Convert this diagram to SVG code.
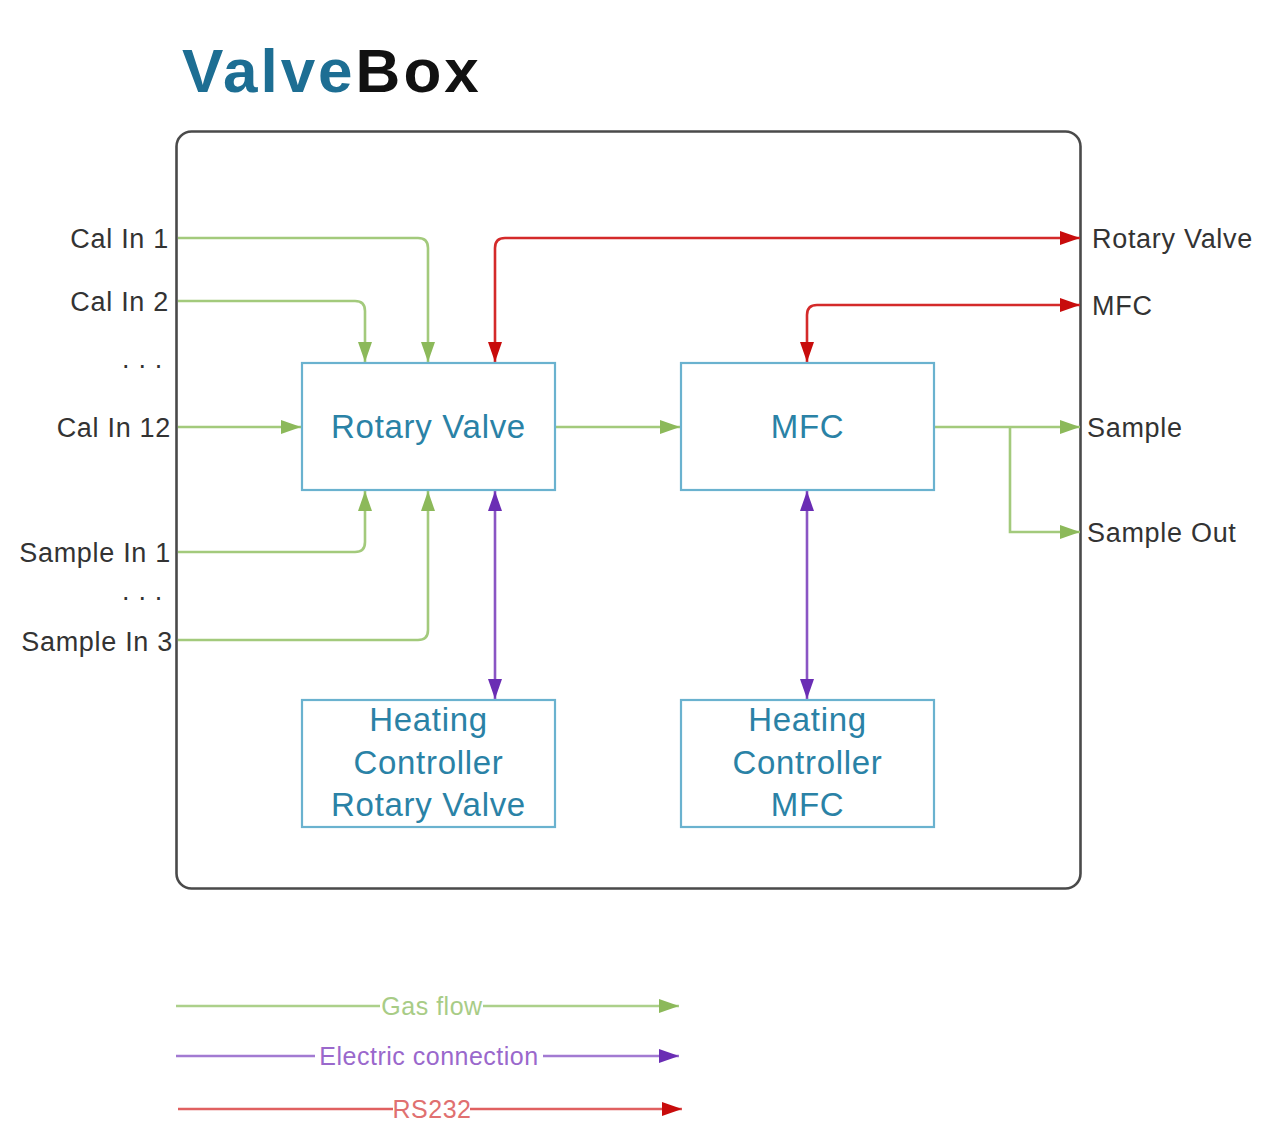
<svg xmlns="http://www.w3.org/2000/svg" width="1270" height="1138" viewBox="0 0 1270 1138">
<style>
  text { font-family: "Liberation Sans", Arial, sans-serif; }
  .title { font-size: 62px; font-weight: bold; letter-spacing: 3px; }
  .node rect { fill: #ffffff; stroke: #6ab2cf; stroke-width: 2.2; }
  .node text { fill: #2a82a6; font-size: 33px; text-anchor: middle; letter-spacing: 0.7px; }
  .lbl { fill: #333333; font-size: 27px; letter-spacing: 0.7px; }
  .lbl-l { text-anchor: end; }
  .gas { fill: none; stroke: #a3ca7c; stroke-width: 2.6; }
  .rs { fill: none; stroke: #d42a2a; stroke-width: 2.6; }
  .el { fill: none; stroke: #8a55c4; stroke-width: 2.6; }
  .leg { font-size: 25px; text-anchor: middle; letter-spacing: 0.5px; }
</style>
<defs>
  <marker id="ag" markerUnits="userSpaceOnUse" markerWidth="22" markerHeight="16" refX="20" refY="7" orient="auto-start-reverse">
    <path d="M0,0 L20,7 L0,14 z" fill="#8cb95a"/>
  </marker>
  <marker id="ar" markerUnits="userSpaceOnUse" markerWidth="22" markerHeight="16" refX="20" refY="7" orient="auto-start-reverse">
    <path d="M0,0 L20,7 L0,14 z" fill="#c80c0c"/>
  </marker>
  <marker id="ap" markerUnits="userSpaceOnUse" markerWidth="22" markerHeight="16" refX="20" refY="7" orient="auto-start-reverse">
    <path d="M0,0 L20,7 L0,14 z" fill="#6a2db4"/>
  </marker>
</defs>

<rect width="1270" height="1138" fill="#ffffff"/>

<g id="title">
  <text class="title" x="182" y="92"><tspan fill="#1d6e93">Valve</tspan><tspan fill="#111111">Box</tspan></text>
</g>

<g id="valvebox">
  <rect x="176.5" y="131.5" width="904" height="757" rx="15" ry="15" fill="none" stroke="#4a4a4a" stroke-width="2.6"/>
</g>

<g id="labels">
  <text class="lbl lbl-l" x="169" y="248">Cal In 1</text>
  <text class="lbl lbl-l" x="169" y="311">Cal In 2</text>
  <text class="lbl lbl-l" x="163" y="368">. . .</text>
  <text class="lbl lbl-l" x="171" y="437">Cal In 12</text>
  <text class="lbl lbl-l" x="171" y="562">Sample In 1</text>
  <text class="lbl lbl-l" x="163" y="600">. . .</text>
  <text class="lbl lbl-l" x="173" y="651">Sample In 3</text>
  <text class="lbl" x="1092" y="248">Rotary Valve</text>
  <text class="lbl" x="1092" y="315">MFC</text>
  <text class="lbl" x="1087" y="437">Sample</text>
  <text class="lbl" x="1087" y="542">Sample Out</text>
</g>

<g id="connectors">
  <path class="gas" d="M178,238 H418 Q428,238 428,248 V362" marker-end="url(#ag)"/>
  <path class="gas" d="M178,301 H355 Q365,301 365,311 V362" marker-end="url(#ag)"/>
  <path class="gas" d="M178,427 H301" marker-end="url(#ag)"/>
  <path class="gas" d="M178,552 H355 Q365,552 365,542 V491" marker-end="url(#ag)"/>
  <path class="gas" d="M178,640 H418 Q428,640 428,630 V491" marker-end="url(#ag)"/>
  <path class="gas" d="M556,427 H680" marker-end="url(#ag)"/>
  <path class="gas" d="M935,427 H1080" marker-end="url(#ag)"/>
  <path class="gas" d="M1010,427 V532 H1080" marker-end="url(#ag)"/>
  <path class="rs" d="M495,362 V248 Q495,238 505,238 H1080" marker-start="url(#ar)" marker-end="url(#ar)"/>
  <path class="rs" d="M807,362 V315 Q807,305 817,305 H1080" marker-start="url(#ar)" marker-end="url(#ar)"/>
  <path class="el" d="M495,491 V699" marker-start="url(#ap)" marker-end="url(#ap)"/>
  <path class="el" d="M807,491 V699" marker-start="url(#ap)" marker-end="url(#ap)"/>
</g>

<g id="rotary-valve" class="node">
  <rect x="302" y="363" width="253" height="127"/>
  <text x="428.5" y="438">Rotary Valve</text>
</g>
<g id="mfc" class="node">
  <rect x="681" y="363" width="253" height="127"/>
  <text x="807.5" y="438">MFC</text>
</g>
<g id="heating-rv" class="node">
  <rect x="302" y="700" width="253" height="127"/>
  <text x="428.5" y="731">Heating</text>
  <text x="428.5" y="774">Controller</text>
  <text x="428.5" y="816">Rotary Valve</text>
</g>
<g id="heating-mfc" class="node">
  <rect x="681" y="700" width="253" height="127"/>
  <text x="807.5" y="731">Heating</text>
  <text x="807.5" y="774">Controller</text>
  <text x="807.5" y="816">MFC</text>
</g>

<g id="legend">
  <path d="M176,1006 H679" fill="none" stroke="#acd08a" stroke-width="2.6" marker-end="url(#ag)"/>
  <rect x="380" y="992" width="103" height="28" fill="#ffffff"/>
  <text class="leg" x="432" y="1015" fill="#a8cc86">Gas flow</text>
  <path d="M176,1056 H679" fill="none" stroke="#a27ad2" stroke-width="2.6" marker-end="url(#ap)"/>
  <rect x="315" y="1042" width="228" height="28" fill="#ffffff"/>
  <text class="leg" x="429" y="1065" fill="#9a68cc">Electric connection</text>
  <path d="M178,1109 H682" fill="none" stroke="#e06060" stroke-width="2.6" marker-end="url(#ar)"/>
  <rect x="393" y="1095" width="77" height="28" fill="#ffffff"/>
  <text class="leg" x="432" y="1118" fill="#e07070">RS232</text>
</g>
</svg>
